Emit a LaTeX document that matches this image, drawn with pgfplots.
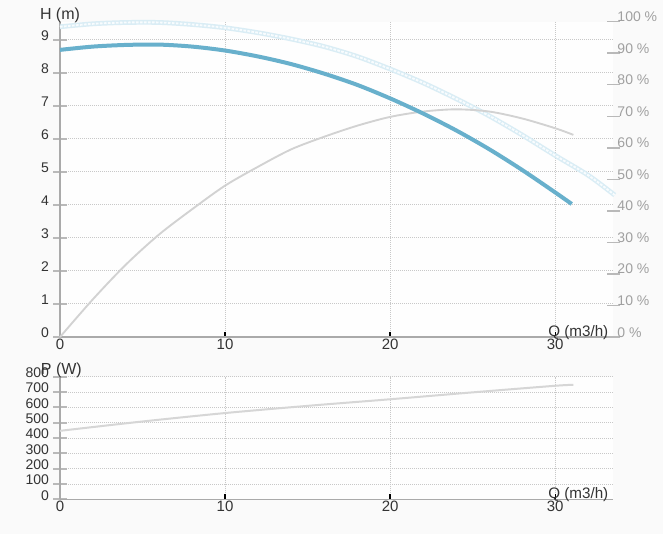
\documentclass[border=0pt]{standalone}
\usepackage{fontspec}
\setmainfont{Liberation Sans}
\usepackage{pgfplots}
\usepackage{pgfplotstable}
\pgfplotsset{compat=1.18}
\definecolor{bg}{RGB}{250,250,250}
\definecolor{plotbg}{RGB}{254,254,254}
\definecolor{axisgray}{RGB}{170,170,170}
\definecolor{tickgray}{RGB}{185,185,185}
\definecolor{gridgray}{RGB}{200,200,200}
\definecolor{hblue}{RGB}{104,176,204}
\definecolor{lblue}{RGB}{218,237,245}
\definecolor{lbluein}{RGB}{248,252,254}
\definecolor{effgray}{RGB}{210,210,210}
\definecolor{pgray}{RGB}{214,214,214}
\definecolor{txt}{RGB}{51,51,51}
\definecolor{rtxt}{RGB}{160,160,160}

\pgfplotstableread{
q h
0 8.70
2 8.80
4 8.85
6 8.86
8 8.80
10 8.68
12 8.50
14 8.27
16 7.98
18 7.64
20 7.23
22 6.77
24 6.26
26 5.69
28 5.06
30 4.38
31 4.03
}\headtable

\pgfplotstableread{
q v
0 9.40
2 9.49
4 9.53
6 9.53
8 9.47
10 9.37
12 9.22
14 9.03
16 8.80
18 8.50
20 8.12
22 7.70
24 7.22
26 6.70
28 6.12
30 5.50
32 4.90
33.6 4.30
}\bluetable

\pgfplotstableread{
q eff
0 0
2 12
4 23
6 32.5
8 40.5
10 48
12 54
14 59.5
16 63.5
18 67
20 69.8
22 71.5
24 72.2
26 71.5
28 69.3
30 66.2
31.1 64.1
}\efftable

\pgfplotstableread{
q p
0 447
5 508
10 563
15 610
20 653
25 698
30 741
31.1 747
}\powertable

\pgfplotsset{
  base/.style={
    scale only axis, width=414.75pt, xmin=0, xmax=33.5,
    axis background/.style={fill=plotbg},
    axis x line*=bottom, axis y line*=left,
    axis line style={draw=axisgray, line width=1.1pt},
    xtick={0,10,20,30},
    xmajorgrids, ymajorgrids,
    major grid style={draw=gridgray, line width=0.75pt, dash pattern=on 0.75pt off 0.75pt},
    xtick align=inside, ytick align=center,
    xtick style={draw=black, line width=1.1pt, /pgfplots/major tick length=3.75pt},
    ytick style={draw=tickgray, line width=1.5pt, /pgfplots/major tick length=10.5pt},
    tick label style={/pgf/number format/assume math mode=true},
    xticklabel style={font=\fontsize{11.25}{12}\selectfont, text=txt, anchor=north, inner sep=0pt, yshift=-1pt},
    yticklabel style={font=\fontsize{10.5}{12}\selectfont, text=txt, anchor=east, inner sep=0pt, yshift=3pt, xshift=-6pt},
    clip=false,
  }
}

\begin{document}
\begin{tikzpicture}
\path[use as bounding box, fill=bg] (0,0) rectangle (497.25pt,-400.5pt);

% top axis
\begin{axis}[base, at={(45pt,-252.75pt)}, anchor=south west,
  height=236.5pt, ymin=0, ymax=9.555, ytick={0,1,...,9}]
\addplot[draw=lblue, line width=3.6pt, smooth] table[x=q, y=v] {\bluetable};
\addplot[draw=lbluein, line width=1.4pt, smooth, dash pattern=on 2pt off 1pt] table[x=q, y=v] {\bluetable};
\addplot[draw=effgray, line width=1.4pt, smooth] table[x=q, y expr=\thisrow{eff}*0.09555] {\efftable};
\addplot[draw=hblue, line width=3pt, smooth] table[x=q, y=h] {\headtable};
\node[anchor=base, font=\fontsize{12}{14}\selectfont, text=txt, yshift=1.3pt] at (rel axis cs:0,1) {H (m)};
\node[anchor=base east, font=\fontsize{11.4}{14}\selectfont, text=txt, yshift=0.3pt] at (rel axis cs:1,0) {Q (m3/h)};
\end{axis}

% right efficiency ticks
\begin{axis}[at={(45pt,-252.75pt)}, anchor=south west, scale only axis,
  width=414.75pt, height=236.5pt, xmin=0, xmax=33.5, ymin=0, ymax=100,
  axis x line=none, axis y line*=right, axis line style={draw=none},
  ytick={0,10,...,100}, ytick align=center,
  ytick style={draw=tickgray, line width=1.1pt, /pgfplots/major tick length=9.75pt},
  tick label style={/pgf/number format/assume math mode=true},
  yticklabel style={font=\fontsize{10.5}{12}\selectfont, text=rtxt, anchor=base west, inner sep=0pt, xshift=1pt},
  yticklabel={\pgfmathprintnumber{\tick} \%}]
\end{axis}

% lower axis
\begin{axis}[base, at={(45pt,-374.5pt)}, anchor=south west,
  height=91.95pt, ymin=0, ymax=800, ytick={0,100,...,800}]
\addplot[draw=pgray, line width=1.5pt, smooth] table[x=q, y=p] {\powertable};
\node[anchor=base, font=\fontsize{12}{14}\selectfont, text=txt, yshift=1.3pt, xshift=1pt] at (rel axis cs:0,1) {P (W)};
\node[anchor=base east, font=\fontsize{11.4}{14}\selectfont, text=txt, yshift=0.3pt] at (rel axis cs:1,0) {Q (m3/h)};
\end{axis}
\end{tikzpicture}
\end{document}
